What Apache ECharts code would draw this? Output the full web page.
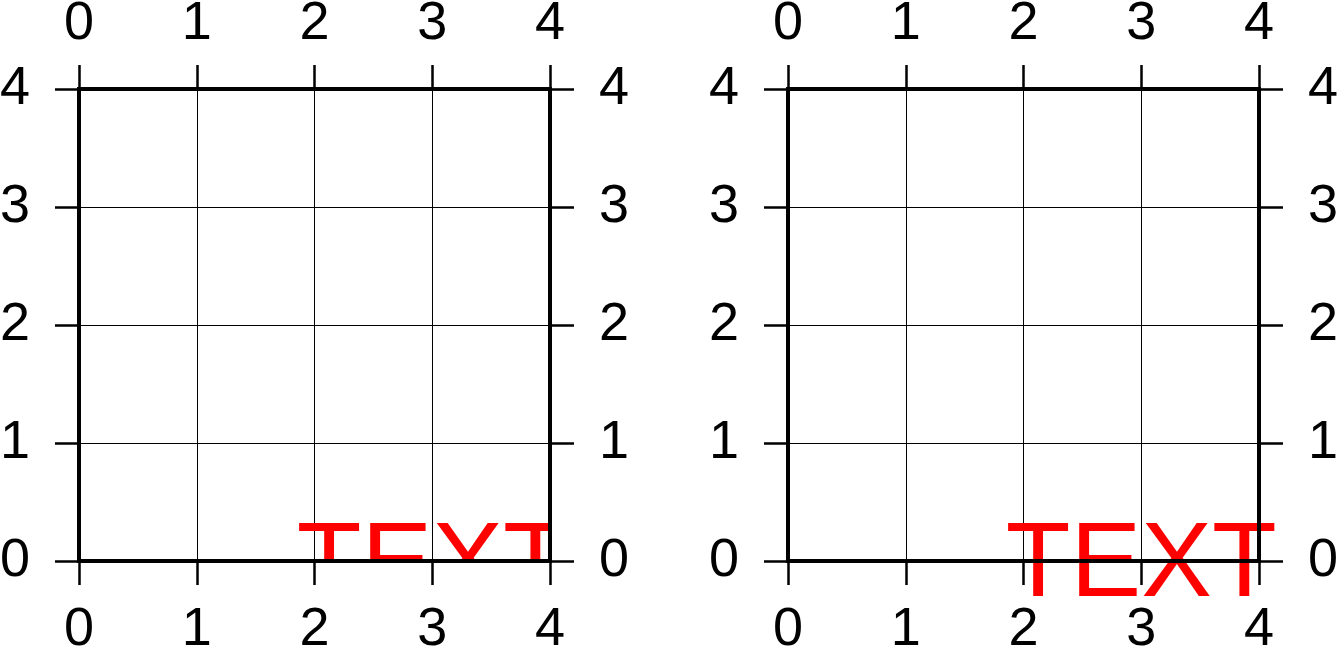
<!DOCTYPE html>
<html>
<head>
<meta charset="utf-8">
<script src="https://cdn.jsdelivr.net/npm/echarts@6/dist/echarts.min.js"></script>
<style>
html,body{margin:0;padding:0;background:#fff;}
#c{width:1338px;height:652px;}
</style>
</head>
<body>
<div id="c"></div>
<script>
// Data
var axisMin = 0;
var axisMax = 4;
var axisStep = 1;
var textPoint = [3, 0];
var textLabel = 'TEXT';
var panelClip = [true, false];

var FONT = "'Liberation Sans', Arial, Helvetica, sans-serif";
var chart = echarts.init(document.getElementById('c'), null, {renderer: 'canvas'});

var grids = [
  {left: 79, top: 89, width: 471, height: 472, containLabel: false, outerBoundsMode: 'none'},
  {left: 788, top: 89, width: 471, height: 472, containLabel: false, outerBoundsMode: 'none'}
];

var xAxes = [], yAxes = [], series = [];

function lineAxis(gi, pos, isX) {
  var margin = isX ? (pos === 'top' ? 38 : 42) : 49;
  return {
    type: 'value', gridIndex: gi, position: pos,
    min: axisMin, max: axisMax, interval: axisStep,
    z: 10,
    axisLine: {show: true, onZero: false, lineStyle: {color: '#000', width: 4, cap: 'square'}},
    axisTick: {show: true, inside: false, length: 24, lineStyle: {color: '#000', width: 2.5}},
    axisLabel: {show: true, margin: margin, color: '#000', fontSize: 54, fontFamily: FONT},
    splitLine: {show: false}
  };
}
function gridAxis(gi, pos) {
  return {
    type: 'value', gridIndex: gi, position: pos,
    min: axisMin, max: axisMax, interval: axisStep,
    z: 0,
    axisLine: {show: false}, axisTick: {show: false}, axisLabel: {show: false},
    splitLine: {show: true, lineStyle: {color: '#000', width: 1}}
  };
}

for (var g = 0; g < grids.length; g++) {
  var xi = xAxes.length, yi = yAxes.length;
  xAxes.push(lineAxis(g, 'bottom', true));
  xAxes.push(lineAxis(g, 'top', true));
  xAxes.push(gridAxis(g, 'bottom'));
  yAxes.push(lineAxis(g, 'left', false));
  yAxes.push(lineAxis(g, 'right', false));
  yAxes.push(gridAxis(g, 'left'));
  series.push({
    type: 'custom',
    xAxisIndex: xi, yAxisIndex: yi,
    clip: panelClip[g],
    z: 2,
    data: [textPoint],
    renderItem: function (params, api) {
      var p = api.coord([api.value(0), api.value(1)]);
      return {
        type: 'text',
        x: p[0], y: p[1] + 6,
        style: {
          text: textLabel,
          fill: '#ff0000',
          font: '106px ' + FONT,
          align: 'center',
          verticalAlign: 'middle'
        }
      };
    }
  });
}

chart.setOption({
  animation: false,
  backgroundColor: '#fff',
  grid: grids,
  xAxis: xAxes,
  yAxis: yAxes,
  series: series
});
</script>
</body>
</html>
